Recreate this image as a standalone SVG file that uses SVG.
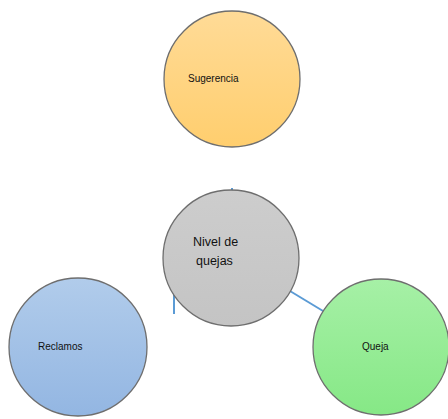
<svg xmlns="http://www.w3.org/2000/svg" width="448" height="419" viewBox="0 0 448 419">
<defs>
<linearGradient id="gOrange" x1="0" y1="0" x2="0" y2="1"><stop offset="0" stop-color="#FFDB97"/><stop offset="1" stop-color="#FFCE6E"/></linearGradient>
<linearGradient id="gGray" x1="0" y1="0" x2="0" y2="1"><stop offset="0" stop-color="#CDCDCD"/><stop offset="1" stop-color="#C4C4C4"/></linearGradient>
<linearGradient id="gBlue" x1="0" y1="0" x2="0" y2="1"><stop offset="0" stop-color="#B1CCEB"/><stop offset="1" stop-color="#93B6E2"/></linearGradient>
<linearGradient id="gGreen" x1="0" y1="0" x2="0" y2="1"><stop offset="0" stop-color="#A6F0A6"/><stop offset="1" stop-color="#86E886"/></linearGradient>
</defs>
<style>
.node circle{stroke:#6E6E6E;stroke-width:1.3}
.lbl{font-family:"Liberation Sans",Arial,sans-serif;font-size:10px;fill:#111}
.big{font-size:12.5px}
.conn line{stroke:#5B9BD5;stroke-width:2;fill:none}
</style>
<rect width="448" height="419" fill="#fff"/>
<g id="connectors" class="conn">
<line x1="174" y1="293" x2="174" y2="314"/>
<line x1="285" y1="288" x2="328" y2="314"/>
<line x1="232" y1="188" x2="232" y2="191"/>
</g>
<g id="sugerencia" class="node">
<circle cx="232" cy="79" r="68" fill="url(#gOrange)"/>
<text class="lbl" x="188" y="82">Sugerencia</text>
</g>
<g id="nivel" class="node">
<circle cx="231" cy="258" r="68" fill="url(#gGray)"/>
<text class="lbl big" x="193" y="246">Nivel de</text>
<text class="lbl big" x="196" y="265">quejas</text>
</g>
<g id="reclamos" class="node">
<circle cx="78" cy="347" r="69" fill="url(#gBlue)"/>
<text class="lbl" x="38" y="350">Reclamos</text>
</g>
<g id="queja" class="node">
<circle cx="381" cy="347" r="68" fill="url(#gGreen)"/>
<text class="lbl" x="362" y="350">Queja</text>
</g>
</svg>
